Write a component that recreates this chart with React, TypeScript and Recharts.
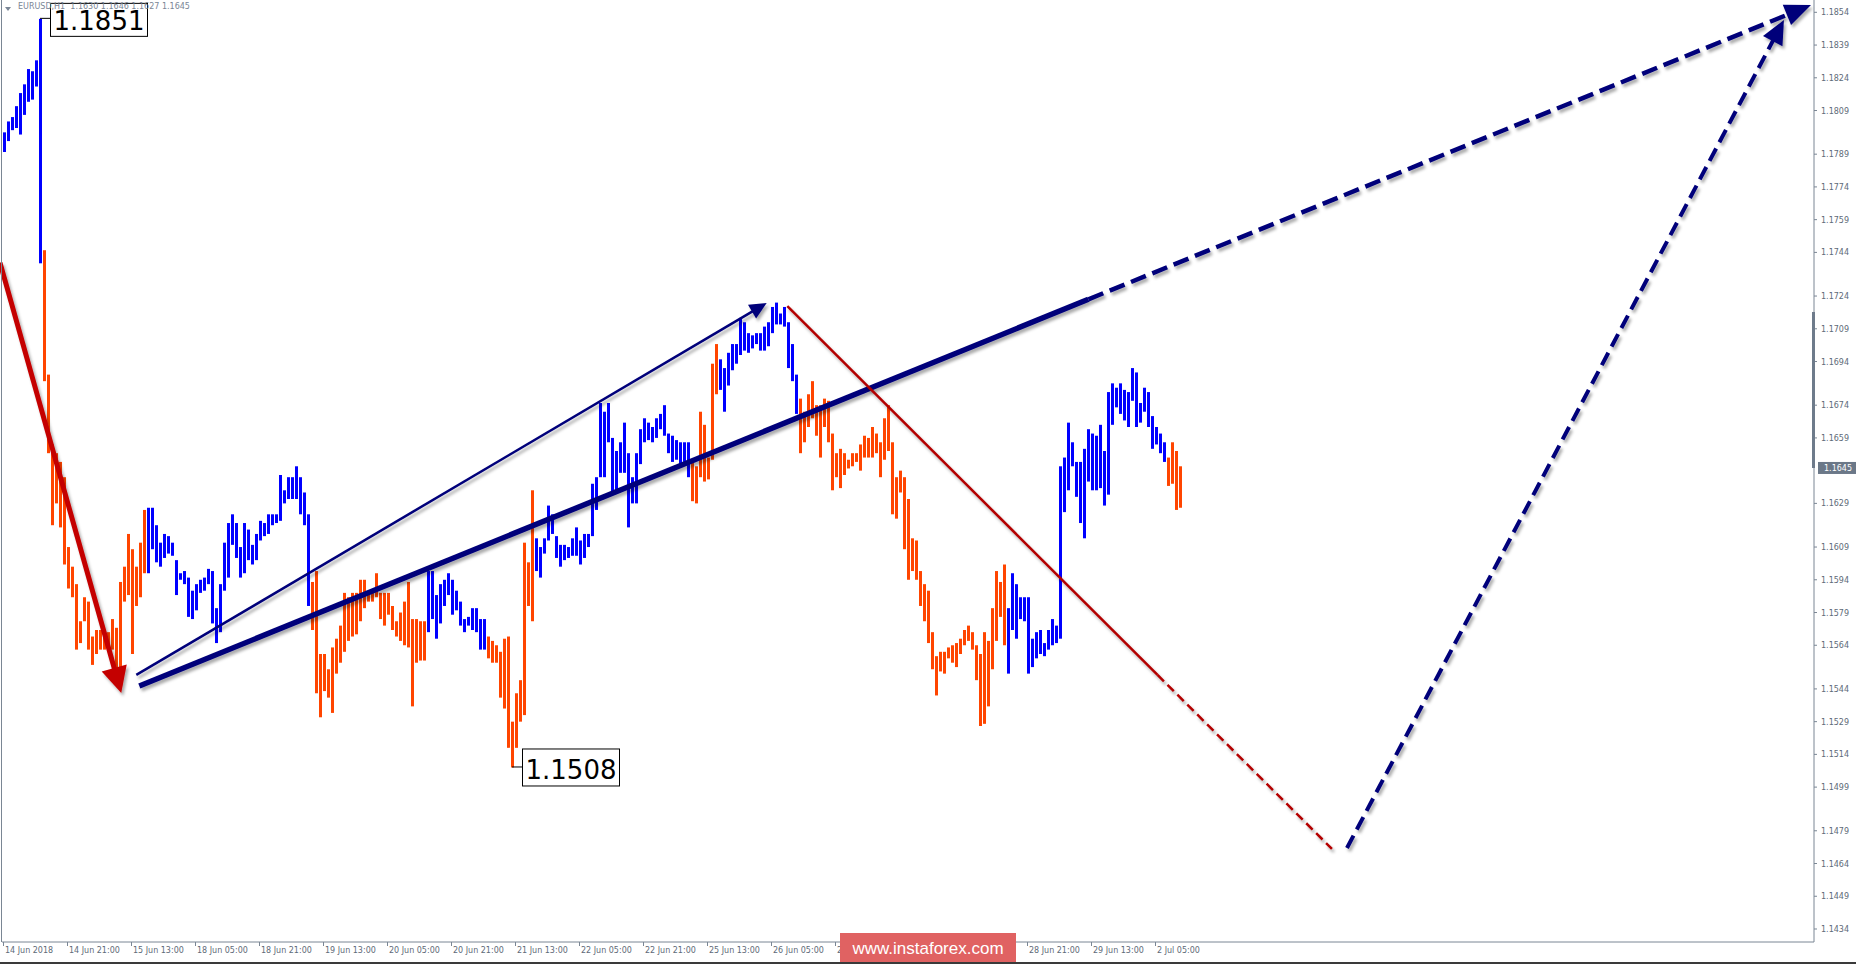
import React from 'react';
import { ComposedChart, Bar, Cell, XAxis, YAxis, ReferenceLine, ReferenceDot } from 'recharts';

// ---- EURUSD H1 bars (high / low) ----
const highs = [
  1.1799, 1.1804, 1.1806, 1.1811, 1.1817, 1.1821, 1.1828, 1.1827, 1.1832, 1.1851,
  1.1745, 1.1688, 1.1656, 1.1652, 1.1648, 1.1641, 1.1609, 1.1600, 1.1592, 1.1575,
  1.1586, 1.1584, 1.1568, 1.1571, 1.1571, 1.1571, 1.1570, 1.1576, 1.1572, 1.1593,
  1.1600, 1.1615, 1.1608, 1.1600, 1.1611, 1.1626, 1.1627, 1.1627, 1.1619, 1.1611,
  1.1615, 1.1614, 1.1611, 1.1603, 1.1597, 1.1598, 1.1595, 1.1589, 1.1592, 1.1594,
  1.1595, 1.1599, 1.1598, 1.1581, 1.1592, 1.1611, 1.1620, 1.1624, 1.1620, 1.1609,
  1.1620, 1.1617, 1.1610, 1.1615, 1.1621, 1.1620, 1.1624, 1.1624, 1.1624, 1.1642,
  1.1635, 1.1641, 1.1641, 1.1646, 1.1641, 1.1634, 1.1624, 1.1593, 1.1598, 1.1560,
  1.1560, 1.1553, 1.1563, 1.1567, 1.1573, 1.1588, 1.1586, 1.1588, 1.1588, 1.1594,
  1.1594, 1.1588, 1.1588, 1.1597, 1.1588, 1.1588, 1.1588, 1.1582, 1.1575, 1.1579,
  1.1584, 1.1593, 1.1576, 1.1576, 1.1575, 1.1575, 1.1598, 1.1598, 1.1587, 1.1592,
  1.1594, 1.1597, 1.1594, 1.1589, 1.1584, 1.1576, 1.1577, 1.1581, 1.1581, 1.1576,
  1.1576, 1.1568, 1.1566, 1.1564, 1.1561, 1.1567, 1.1568, 1.1529, 1.1542, 1.1548,
  1.1611, 1.1602, 1.1635, 1.1613, 1.1609, 1.1613, 1.1628, 1.1624, 1.1614, 1.1610,
  1.1610, 1.1609, 1.1613, 1.1618, 1.1612, 1.1615, 1.1615, 1.1638, 1.1641, 1.1675,
  1.1671, 1.1675, 1.1659, 1.1653, 1.1657, 1.1666, 1.1652, 1.1641, 1.1652, 1.1663,
  1.1668, 1.1666, 1.1664, 1.1668, 1.1670, 1.1674, 1.1661, 1.1660, 1.1658, 1.1657,
  1.1657, 1.1657, 1.1649, 1.1646, 1.1671, 1.1665, 1.1650, 1.1693, 1.1702, 1.1695,
  1.1691, 1.1698, 1.1702, 1.1702, 1.1714, 1.1712, 1.1707, 1.1706, 1.1707, 1.1707,
  1.1710, 1.1712, 1.1719, 1.1721, 1.1716, 1.1719, 1.1712, 1.1702, 1.1688, 1.1677,
  1.1671, 1.1679, 1.1685, 1.1674, 1.1674, 1.1677, 1.1676, 1.1661, 1.1652, 1.1654,
  1.1652, 1.1649, 1.1652, 1.1652, 1.1656, 1.1660, 1.1659, 1.1664, 1.1661, 1.1657,
  1.1668, 1.1674, 1.1657, 1.1641, 1.1644, 1.1641, 1.1631, 1.1613, 1.1612, 1.1598,
  1.1592, 1.1589, 1.1570, 1.1559, 1.1561, 1.1561, 1.1563, 1.1564, 1.1565, 1.1567,
  1.1571, 1.1573, 1.1570, 1.1564, 1.1560, 1.1570, 1.1566, 1.1581, 1.1598, 1.1593,
  1.1601, 1.1581, 1.1597, 1.1592, 1.1586, 1.1586, 1.1586, 1.1567, 1.1570, 1.1571,
  1.1565, 1.1571, 1.1576, 1.1573, 1.1646, 1.1650, 1.1666, 1.1657, 1.1648, 1.1648,
  1.1654, 1.1663, 1.1661, 1.1660, 1.1665, 1.1653, 1.1680, 1.1684, 1.1682, 1.1684,
  1.1681, 1.1680, 1.1691, 1.1689, 1.1675, 1.1682, 1.1680, 1.1669, 1.1664, 1.1661,
  1.1657, 1.1650, 1.1657, 1.1653, 1.1646,
];

const lows = [
  1.1790, 1.1795, 1.1800, 1.1801, 1.1798, 1.1807, 1.1813, 1.1814, 1.1820, 1.1739,
  1.1685, 1.1652, 1.1619, 1.1629, 1.1618, 1.1601, 1.1590, 1.1586, 1.1562, 1.1565,
  1.1575, 1.1562, 1.1555, 1.1560, 1.1562, 1.1562, 1.1563, 1.1562, 1.1552, 1.1553,
  1.1584, 1.1587, 1.1560, 1.1582, 1.1586, 1.1597, 1.1597, 1.1608, 1.1602, 1.1600,
  1.1604, 1.1606, 1.1605, 1.1587, 1.1594, 1.1592, 1.1577, 1.1576, 1.1580, 1.1588,
  1.1589, 1.1592, 1.1574, 1.1565, 1.1570, 1.1589, 1.1595, 1.1610, 1.1604, 1.1595,
  1.1597, 1.1603, 1.1601, 1.1603, 1.1612, 1.1614, 1.1615, 1.1619, 1.1620, 1.1621,
  1.1629, 1.1631, 1.1631, 1.1631, 1.1624, 1.1619, 1.1582, 1.1571, 1.1542, 1.1531,
  1.1543, 1.1540, 1.1533, 1.1551, 1.1556, 1.1561, 1.1566, 1.1568, 1.1569, 1.1575,
  1.1581, 1.1584, 1.1584, 1.1586, 1.1576, 1.1573, 1.1578, 1.1571, 1.1568, 1.1566,
  1.1564, 1.1563, 1.1536, 1.1556, 1.1557, 1.1557, 1.1570, 1.1576, 1.1567, 1.1574,
  1.1582, 1.1587, 1.1578, 1.1580, 1.1573, 1.1570, 1.1573, 1.1571, 1.1570, 1.1562,
  1.1562, 1.1558, 1.1556, 1.1556, 1.1540, 1.1535, 1.1517, 1.1508, 1.1517, 1.1529,
  1.1532, 1.1582, 1.1575, 1.1598, 1.1595, 1.1606, 1.1612, 1.1615, 1.1604, 1.1600,
  1.1603, 1.1604, 1.1605, 1.1605, 1.1601, 1.1604, 1.1609, 1.1614, 1.1626, 1.1641,
  1.1641, 1.1657, 1.1634, 1.1634, 1.1643, 1.1643, 1.1618, 1.1629, 1.1629, 1.1647,
  1.1657, 1.1658, 1.1657, 1.1659, 1.1663, 1.1660, 1.1652, 1.1648, 1.1649, 1.1647,
  1.1648, 1.1641, 1.1630, 1.1629, 1.1641, 1.1639, 1.1640, 1.1649, 1.1679, 1.1681,
  1.1671, 1.1683, 1.1690, 1.1693, 1.1697, 1.1699, 1.1698, 1.1700, 1.1702, 1.1699,
  1.1699, 1.1701, 1.1707, 1.1711, 1.1711, 1.1710, 1.1691, 1.1685, 1.1670, 1.1652,
  1.1657, 1.1664, 1.1668, 1.1660, 1.1650, 1.1664, 1.1657, 1.1635, 1.1641, 1.1636,
  1.1642, 1.1645, 1.1646, 1.1648, 1.1644, 1.1650, 1.1650, 1.1650, 1.1652, 1.1641,
  1.1649, 1.1653, 1.1624, 1.1622, 1.1634, 1.1608, 1.1594, 1.1598, 1.1594, 1.1582,
  1.1575, 1.1565, 1.1553, 1.1541, 1.1552, 1.1551, 1.1558, 1.1556, 1.1554, 1.1560,
  1.1564, 1.1566, 1.1562, 1.1548, 1.1527, 1.1528, 1.1536, 1.1553, 1.1566, 1.1577,
  1.1564, 1.1551, 1.1571, 1.1567, 1.1576, 1.1575, 1.1551, 1.1554, 1.1558, 1.1560,
  1.1559, 1.1562, 1.1564, 1.1565, 1.1567, 1.1625, 1.1635, 1.1646, 1.1632, 1.1620,
  1.1613, 1.1639, 1.1635, 1.1635, 1.1636, 1.1628, 1.1633, 1.1665, 1.1673, 1.1670,
  1.1667, 1.1664, 1.1676, 1.1664, 1.1666, 1.1671, 1.1664, 1.1654, 1.1656, 1.1652,
  1.1648, 1.1637, 1.1638, 1.1626, 1.1627,
];

// trend colouring runs (first bar index of each run, and its direction)
const runStarts = [0, 10, 36, 77, 106, 121, 133, 172, 179, 199, 251, 291];
const runDirs = ['up', 'down', 'up', 'down', 'up', 'down', 'up', 'down', 'up', 'down', 'up', 'down'];

const timeTickBars = [0, 16, 32, 48, 64, 80, 96, 112, 128, 144, 160, 176, 192, 208, 224, 240, 256, 272, 288];
const timeTickLabels = [
  '14 Jun 2018', '14 Jun 21:00', '15 Jun 13:00', '18 Jun 05:00', '18 Jun 21:00', '19 Jun 13:00',
  '20 Jun 05:00', '20 Jun 21:00', '21 Jun 13:00', '22 Jun 05:00', '22 Jun 21:00', '25 Jun 13:00',
  '26 Jun 05:00', '26 Jun 21:00', '27 Jun 13:00', '28 Jun 05:00', '28 Jun 21:00', '29 Jun 13:00',
  '2 Jul 05:00',
];

const priceTicks = [
  1.1854, 1.1839, 1.1824, 1.1809, 1.1789, 1.1774, 1.1759, 1.1744, 1.1724, 1.1709, 1.1694,
  1.1674, 1.1659, 1.1629, 1.1609, 1.1594, 1.1579, 1.1564, 1.1544, 1.1529, 1.1514, 1.1499,
  1.1479, 1.1464, 1.1449, 1.1434,
];

const header = 'EURUSD,H1  1.1630 1.1646 1.1627 1.1645';
const lastClose = 1.1645;
const highLabel = { bar: 9, price: 1.1851, text: '1.1851' };
const lowLabel = { bar: 127, price: 1.1508, text: '1.1508' };
const totalSlots = 453;

// wave annotations: [barFrom, priceFrom, barTo, priceTo]
const redImpulse = [-0.5, 1.17393, 29.75, 1.15421];
const thinNavy = [33.5, 1.15504, 190.75, 1.17208];
const thickNavySolid = [34.25, 1.15453, 271, 1.17225];
const thickNavyDash = [271, 1.17225, 451.25, 1.18573];
const thinRedSolid = [195.9, 1.17194, 288.25, 1.15504];
const thinRedDash = [288.25, 1.15504, 331.75, 1.14707];
const navyDashUp = [335.5, 1.14711, 444.5, 1.18505];

const UP = '#0000ff';
const DOWN = '#ff4500';
const AXIS = '#7a8694';
const TXT = '#5e6a78';
const FONT = '"DejaVu Sans", Tahoma, sans-serif';

const dirOf = (i: number) => {
  let d = runDirs[0];
  for (let k = 0; k < runStarts.length; k++) if (i >= runStarts[k]) d = runDirs[k];
  return d;
};

const data = Array.from({ length: totalSlots }, (_, i) => ({
  i,
  range: i < highs.length ? [lows[i], highs[i]] : null,
}));

const TimeTick = (p: any) => {
  const { x, y, payload } = p;
  const idx = timeTickBars.indexOf(payload.value);
  if (idx < 0) return null;
  return (
    <g>
      <line x1={x - 0.5} y1={y} x2={x - 0.5} y2={y + 4} stroke={AXIS} strokeWidth={1} />
      <text x={x + 1} y={y + 10.5} fontFamily={FONT} fontSize={8} fill={TXT} textAnchor="start">
        {timeTickLabels[idx]}
      </text>
    </g>
  );
};

const PriceTick = (p: any) => {
  const { x, y, payload } = p;
  return (
    <g>
      <line x1={x} y1={y} x2={x + 3} y2={y} stroke={AXIS} strokeWidth={1} />
      <text x={x + 7} y={y + 3} fontFamily={FONT} fontSize={8} fill={TXT} textAnchor="start">
        {Number(payload.value).toFixed(4)}
      </text>
    </g>
  );
};

let filterSeq = 0;
const makeLine = (color: string, width: number, dash: string | undefined, head: null | { len: number; half: number }) => {
  const id = `shadow${filterSeq++}`;
  return (p: any) => {
    const { x1, y1, x2, y2 } = p;
    if (![x1, y1, x2, y2].every((v) => typeof v === 'number' && isFinite(v))) return <g />;
    const dx = x2 - x1;
    const dy = y2 - y1;
    const L = Math.hypot(dx, dy) || 1;
    const ux = dx / L;
    const uy = dy / L;
    let ex = x2;
    let ey = y2;
    let tri = '';
    if (head) {
      const bx = x2 - ux * head.len;
      const by = y2 - uy * head.len;
      ex = x2 - ux * (head.len - 2);
      ey = y2 - uy * (head.len - 2);
      tri = `${x2},${y2} ${bx - uy * head.half},${by + ux * head.half} ${bx + uy * head.half},${by - ux * head.half}`;
    }
    return (
      <g filter={`url(#${id})`}>
        <defs>
          <filter id={id} filterUnits="userSpaceOnUse" x={0} y={0} width={1856} height={964}>
            <feDropShadow dx={2} dy={3} stdDeviation={1.6} floodColor="#000000" floodOpacity={0.33} />
          </filter>
        </defs>
        <line x1={x1} y1={y1} x2={ex} y2={ey} stroke={color} strokeWidth={width} strokeDasharray={dash} />
        {head ? <polygon points={tri} fill={color} /> : null}
      </g>
    );
  };
};

const redShape = makeLine('#c40000', 5, undefined, { len: 26, half: 13 });
const thinNavyShape = makeLine('#00007a', 2.5, undefined, { len: 17, half: 8 });
const thickNavySolidShape = makeLine('#00007a', 5.5, undefined, null);
const thickNavyDashShape = makeLine('#00007a', 4.5, '16 7', { len: 26, half: 11 });
const thinRedSolidShape = makeLine('#b30000', 2.5, undefined, null);
const thinRedDashShape = makeLine('#b30000', 2.5, '9 5', null);
const navyDashUpShape = makeLine('#00007a', 4, '14 7', { len: 24, half: 11 });

const PriceBox = (label: { text: string }, up: boolean) => (p: any) => {
  const { cx, cy } = p;
  if (typeof cx !== 'number' || typeof cy !== 'number') return <g />;
  const bx = cx + 10;
  const top = up ? cy - 16 : cy - 19;
  const h = up ? 33 : 37;
  return (
    <g>
      <line x1={cx} y1={cy - 0.5} x2={bx} y2={cy - 0.5} stroke="#000" strokeWidth={1} />
      <rect x={bx + 0.5} y={top + 0.5} width={97} height={h} fill="#ffffff" stroke="#000" strokeWidth={1} />
      <text x={bx + 49} y={top + h - 6} fontFamily={FONT} fontSize={26} fill="#000" textAnchor="middle">
        {label.text}
      </text>
    </g>
  );
};

const LastPriceBox = (p: any) => {
  const { cx, cy } = p;
  if (typeof cx !== 'number' || typeof cy !== 'number') return <g />;
  return (
    <g>
      <rect x={cx + 1} y={cy - 6.5} width={40} height={12} fill="#6b7888" />
      <text x={cx + 7} y={cy + 3} fontFamily={FONT} fontSize={8} fill="#ffffff" textAnchor="start">
        {lastClose.toFixed(4)}
      </text>
    </g>
  );
};

export default function App() {
  return (
    <div style={{ position: 'absolute', left: 0, top: 0, width: 1856, height: 964, background: '#ffffff', overflow: 'hidden' }}>
      <ComposedChart
        width={1856}
        height={964}
        data={data}
        margin={{ top: 0, right: 0, bottom: 0, left: 2 }}
        barCategoryGap={0}
        barGap={0}
      >
        <XAxis
          xAxisId="c"
          dataKey="i"
          type="category"
          ticks={timeTickBars}
          interval={0}
          tick={<TimeTick />}
          tickLine={false}
          tickSize={0}
          tickMargin={0}
          height={22}
          axisLine={{ stroke: AXIS }}
        />
        <XAxis xAxisId="n" type="number" domain={[-0.25, 452.75]} allowDataOverflow hide />
        <YAxis
          yAxisId="p"
          orientation="right"
          type="number"
          width={42}
          domain={[1.142804, 1.185964]}
          allowDataOverflow
          ticks={priceTicks}
          interval={0}
          tick={<PriceTick />}
          tickLine={false}
          tickSize={0}
          tickMargin={0}
          axisLine={{ stroke: AXIS }}
        />
        <Bar dataKey="range" xAxisId="c" yAxisId="p" barSize={3} isAnimationActive={false}>
          {data.map((d) => (
            <Cell key={d.i} fill={dirOf(d.i) === 'up' ? UP : DOWN} />
          ))}
        </Bar>
        <ReferenceLine xAxisId="n" yAxisId="p" ifOverflow="visible"
          segment={[{ x: thinNavy[0], y: thinNavy[1] }, { x: thinNavy[2], y: thinNavy[3] }]} shape={thinNavyShape} />
        <ReferenceLine xAxisId="n" yAxisId="p" ifOverflow="visible"
          segment={[{ x: thickNavySolid[0], y: thickNavySolid[1] }, { x: thickNavySolid[2], y: thickNavySolid[3] }]} shape={thickNavySolidShape} />
        <ReferenceLine xAxisId="n" yAxisId="p" ifOverflow="visible"
          segment={[{ x: thickNavyDash[0], y: thickNavyDash[1] }, { x: thickNavyDash[2], y: thickNavyDash[3] }]} shape={thickNavyDashShape} />
        <ReferenceLine xAxisId="n" yAxisId="p" ifOverflow="visible"
          segment={[{ x: thinRedSolid[0], y: thinRedSolid[1] }, { x: thinRedSolid[2], y: thinRedSolid[3] }]} shape={thinRedSolidShape} />
        <ReferenceLine xAxisId="n" yAxisId="p" ifOverflow="visible"
          segment={[{ x: thinRedDash[0], y: thinRedDash[1] }, { x: thinRedDash[2], y: thinRedDash[3] }]} shape={thinRedDashShape} />
        <ReferenceLine xAxisId="n" yAxisId="p" ifOverflow="visible"
          segment={[{ x: navyDashUp[0], y: navyDashUp[1] }, { x: navyDashUp[2], y: navyDashUp[3] }]} shape={navyDashUpShape} />
        <ReferenceLine xAxisId="n" yAxisId="p" ifOverflow="visible"
          segment={[{ x: redImpulse[0], y: redImpulse[1] }, { x: redImpulse[2], y: redImpulse[3] }]} shape={redShape} />
        <ReferenceDot xAxisId="c" yAxisId="p" x={highLabel.bar} y={highLabel.price} r={1} ifOverflow="visible" shape={PriceBox(highLabel, true)} />
        <ReferenceDot xAxisId="c" yAxisId="p" x={lowLabel.bar} y={lowLabel.price} r={1} ifOverflow="visible" shape={PriceBox(lowLabel, false)} />
        <ReferenceDot xAxisId="n" yAxisId="p" x={452.75} y={lastClose} r={1} ifOverflow="visible" shape={LastPriceBox} />
      </ComposedChart>

      {/* chart frame left edge */}
      <div style={{ position: 'absolute', left: 1, top: 0, width: 1, height: 942, background: AXIS }} />
      {/* price-axis scroll marker */}
      <div style={{ position: 'absolute', left: 1812, top: 312, width: 3, height: 156, background: '#6e7b8b' }} />
      {/* header */}
      <div style={{ position: 'absolute', left: 5, top: 7, width: 0, height: 0, borderLeft: '3.5px solid transparent', borderRight: '3.5px solid transparent', borderTop: '4px solid #7a8696' }} />
      <div style={{ position: 'absolute', left: 18, top: 1, fontFamily: FONT, fontSize: 8, color: '#7a8696', whiteSpace: 'pre', lineHeight: '12px' }}>
        {header}
      </div>
      {/* watermark */}
      <div style={{ position: 'absolute', left: 840, top: 933, width: 176, height: 31, background: '#e06262', color: '#ffffff', fontFamily: '"Liberation Sans", Arial, sans-serif', fontSize: 17, lineHeight: '31px', textAlign: 'center' }}>
        www.instaforex.com
      </div>
      {/* bottom window edge */}
      <div style={{ position: 'absolute', left: 0, top: 962, width: 1856, height: 2, background: '#3a3a3a' }} />
    </div>
  );
}
